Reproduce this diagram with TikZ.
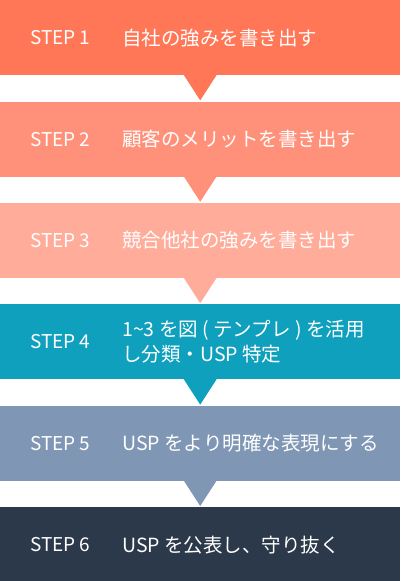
\documentclass[tikz,border=0pt]{standalone}
\usepackage{fontspec}
\setmainfont{Noto Sans CJK JP}
\usepackage{xcolor}
\usepackage{tikz}
\usetikzlibrary{positioning,calc}

\definecolor{stepone}{HTML}{FF7757}
\definecolor{steptwo}{HTML}{FF917A}
\definecolor{stepthree}{HTML}{FFAC9A}
\definecolor{stepfour}{HTML}{0FA0BE}
\definecolor{stepfive}{HTML}{7F97B5}
\definecolor{stepsix}{HTML}{2C394B}

\newcommand{\pointer}[2]{%
  \fill[#2] ($(#1.south)+(-16.5pt,0.5pt)$) -- ($(#1.south)+(16.5pt,0.5pt)$) -- ($(#1.south)+(0,-25pt)$) -- cycle;}

\begin{document}
\begin{tikzpicture}[
    node distance=26pt,
    font=\fontsize{19pt}{25pt}\selectfont,
    band/.style={rectangle, minimum width=400pt, minimum height=75pt, inner sep=0pt},
    steplabel/.style={anchor=west, inner sep=0pt, text=white},
    desc/.style={anchor=west, inner sep=0pt, text=white, align=left, font=\fontsize{19.5pt}{25pt}\selectfont}
]
    \useasboundingbox (0,0) rectangle (400pt,-581pt);

    \node[band, fill=stepone, anchor=north west] (s1) at (0,0) {};
    \node[band, fill=steptwo, below=of s1] (s2) {};
    \node[band, fill=stepthree, below=of s2] (s3) {};
    \node[band, fill=stepfour, below=of s3] (s4) {};
    \node[band, fill=stepfive, below=of s4] (s5) {};
    \node[band, fill=stepsix, below=of s5] (s6) {};

    % pointers between the steps
    \pointer{s1}{stepone}
    \pointer{s2}{steptwo}
    \pointer{s3}{stepthree}
    \pointer{s4}{stepfour}
    \pointer{s5}{stepfive}

    \node[steplabel] (l1) at ([xshift=30pt]s1.west) {STEP 1};
    \node[steplabel] (l2) at ([xshift=30pt]s2.west) {STEP 2};
    \node[steplabel] (l3) at ([xshift=30pt]s3.west) {STEP 3};
    \node[steplabel] (l4) at ([xshift=30pt]s4.west) {STEP 4};
    \node[steplabel] (l5) at ([xshift=30pt]s5.west) {STEP 5};
    \node[steplabel] (l6) at ([xshift=30pt]s6.west) {STEP 6};

    \node[desc] (d1) at ([xshift=122pt]s1.west) {自社の強みを書き出す};
    \node[desc] (d2) at ([xshift=122pt]s2.west) {顧客のメリットを書き出す};
    \node[desc] (d3) at ([xshift=122pt]s3.west) {競合他社の強みを書き出す};
    \node[desc] (d4) at ([xshift=122pt]s4.west) {1\textasciitilde 3 を図 ( テンプレ ) を活用\\し分類・USP 特定};
    \node[desc] (d5) at ([xshift=122pt]s5.west) {USP をより明確な表現にする};
    \node[desc] (d6) at ([xshift=122pt]s6.west) {USP を公表し、守り抜く};
\end{tikzpicture}
\end{document}
